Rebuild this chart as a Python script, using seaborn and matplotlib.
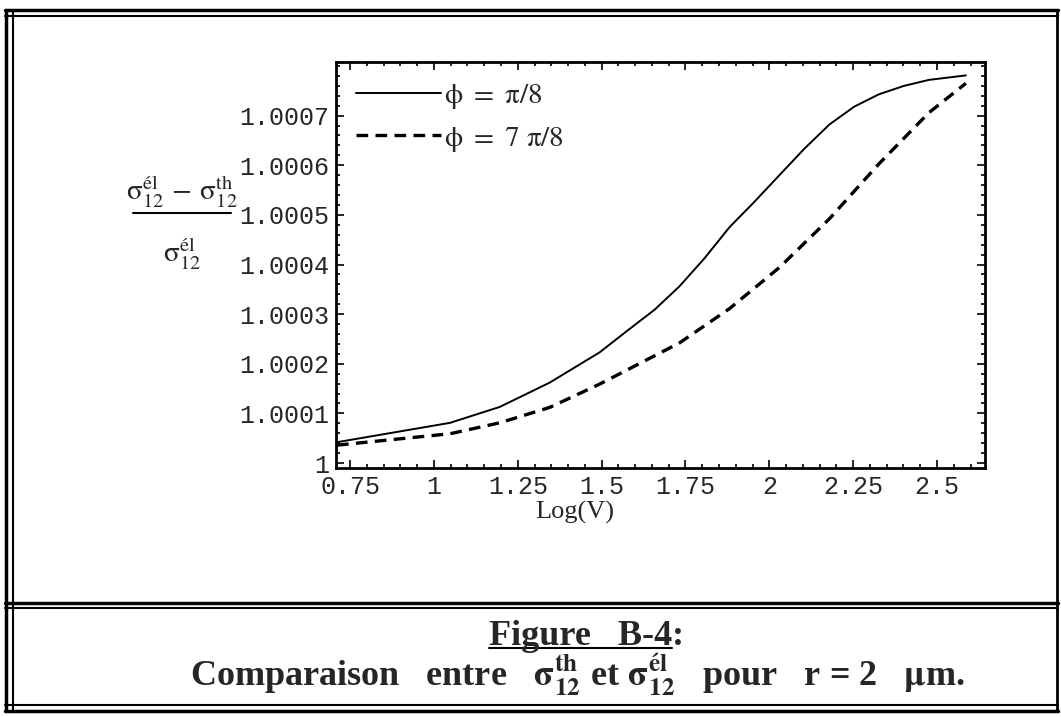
import matplotlib
matplotlib.use("Agg")
import matplotlib.pyplot as plt
from matplotlib.lines import Line2D
from matplotlib.ticker import MultipleLocator
import seaborn as sns
import pandas as pd

# -----------------------------
# Data
# -----------------------------
log_v_pi8 = [0.711, 1.048, 1.196, 1.345, 1.494, 1.583, 1.658, 1.732, 1.806, 1.881,
             1.955, 2.030, 2.104, 2.179, 2.253, 2.327, 2.402, 2.476, 2.586]
ratio_pi8 = [1.000042, 1.000081, 1.000113, 1.000162, 1.000223, 1.000270, 1.000309,
             1.000356, 1.000412, 1.000475, 1.000526, 1.000580, 1.000633, 1.000682,
             1.000718, 1.000743, 1.000760, 1.000772, 1.000781]
log_v_7pi8 = [0.711, 1.048, 1.196, 1.345, 1.494, 1.583, 1.732,
              1.881, 2.030, 2.179, 2.327, 2.476, 2.586]
ratio_7pi8 = [1.000036, 1.000059, 1.000081, 1.000112, 1.000159, 1.000190, 1.000242,
              1.000311, 1.000394, 1.000492, 1.000603, 1.000706, 1.000765]
series_names = [r"$\mathrm{\phi\ =\ \pi/8}$", r"$\mathrm{\phi\ =\ 7\ \pi/8}$"]

x_ticks = [0.75, 1, 1.25, 1.5, 1.75, 2, 2.25, 2.5]
x_tick_labels = ["0.75", "1", "1.25", "1.5", "1.75", "2", "2.25", "2.5"]
y_ticks = [1.0, 1.0001, 1.0002, 1.0003, 1.0004, 1.0005, 1.0006, 1.0007]
y_tick_labels = ["1", "1.0001", "1.0002", "1.0003", "1.0004", "1.0005", "1.0006", "1.0007"]

df = pd.DataFrame({
    "logV": log_v_pi8 + log_v_7pi8,
    "ratio": ratio_pi8 + ratio_7pi8,
    "phi": [series_names[0]] * len(log_v_pi8) + [series_names[1]] * len(log_v_7pi8),
})

# -----------------------------
# Style
# -----------------------------
sns.set_theme(style="ticks")
plt.rcParams["font.family"] = ["Liberation Serif", "DejaVu Serif"]
plt.rcParams["mathtext.fontset"] = "stix"

W, H = 1061, 717
fig = plt.figure(figsize=(W / 100, H / 100), dpi=100)
ax = fig.add_axes([336 / W, 1 - 468 / H, 649 / W, 406 / H])

# -----------------------------
# Curves
# -----------------------------
d1 = df[df["phi"] == series_names[0]]
d2 = df[df["phi"] == series_names[1]]
sns.lineplot(data=d1, x="logV", y="ratio", color="black", linewidth=1.4,
             label=series_names[0], ax=ax, sort=False, estimator=None)
sns.lineplot(data=d2, x="logV", y="ratio", color="black", linewidth=2.4,
             label=series_names[1], ax=ax, sort=False, estimator=None)
ax.lines[1].set_dashes((3.5, 2.2))

ax.set_xlim(0.708, 2.643)
ax.set_ylim(0.99999, 1.000808)

ax.set_xticks(x_ticks)
ax.set_xticklabels(x_tick_labels, fontfamily="Liberation Mono", fontsize=18)
ax.set_yticks(y_ticks)
ax.set_yticklabels(y_tick_labels, fontfamily="Liberation Mono", fontsize=18)
ax.xaxis.set_minor_locator(MultipleLocator(0.05))
ax.yaxis.set_minor_locator(MultipleLocator(0.00002))
ax.tick_params(which="both", direction="in", top=True, right=True, color="black", width=1.2)
ax.tick_params(which="major", length=6, pad=5)
ax.tick_params(which="minor", length=3)
for s in ax.spines.values():
    s.set_linewidth(2)
    s.set_color("black")

ax.set_xlabel("Log(V)", fontsize=19, labelpad=0)
ax.xaxis.set_label_coords(0.368, -0.08)
ax.set_ylabel("")

ax.legend(loc="upper left", bbox_to_anchor=(0.0, 1.0), frameon=False, fontsize=21,
          handlelength=2.9, handletextpad=0.1, labelspacing=0.45, borderaxespad=0.3)

# fraction used as y-axis label (built by hand so it stays full size)
num = r"$\mathrm{\sigma}^{\mathrm{él}}_{\mathrm{12}}\,-\,\mathrm{\sigma}^{\mathrm{th}}_{\mathrm{12}}$"
den = r"$\mathrm{\sigma}^{\mathrm{él}}_{\mathrm{12}}$"
fig.text(182 / W, 1 - 200 / H, num, fontsize=21, ha="center", va="baseline")
fig.text(182 / W, 1 - 262 / H, den, fontsize=21, ha="center", va="baseline")
fig.add_artist(Line2D([133 / W, 231 / W], [1 - 213 / H] * 2,
                      transform=fig.transFigure, color="black", lw=1.5))

# -----------------------------
# Caption
# -----------------------------
cap_x = 672 / W
cap_y = 1 - 645 / H
t1 = fig.text(cap_x, cap_y, "Figure   B-4", ha="right", va="baseline",
              fontsize=26, fontweight="bold")
fig.text(cap_x, cap_y, ":", ha="left", va="baseline", fontsize=26, fontweight="bold")
fig.text(578 / W, 1 - 686 / H,
         r"Comparaison   entre   $\mathbf{\sigma^{th}_{12}}$ et $\mathbf{\sigma^{él}_{12}}$   pour   r = 2   $\mathbf{\mu}$m.",
         ha="center", va="baseline", fontsize=26, fontweight="bold")

fig.canvas.draw()
bb = t1.get_window_extent().transformed(fig.transFigure.inverted())
fig.add_artist(Line2D([bb.x0, bb.x1], [cap_y - 3 / H] * 2,
                      transform=fig.transFigure, color="black", lw=1.5))

# -----------------------------
# Double frame lines of the scanned page
# -----------------------------
def hline(y_px, lw=2.0):
    fig.add_artist(Line2D([5 / W, 1058 / W], [1 - y_px / H] * 2,
                          transform=fig.transFigure, color="black", lw=lw))

def vline(x_px, lw=2.0):
    fig.add_artist(Line2D([x_px / W] * 2, [1 - 10 / H, 1 - 711 / H],
                          transform=fig.transFigure, color="black", lw=lw))

hline(10, 2.5)
hline(16, 1.5)
hline(603, 2.5)
hline(608, 1.5)
hline(705, 1.5)
hline(711, 2.5)
vline(6, 2.5)
vline(13, 1.5)
vline(1057, 2.0)

fig.savefig("out.png", dpi=100)
plt.close()
